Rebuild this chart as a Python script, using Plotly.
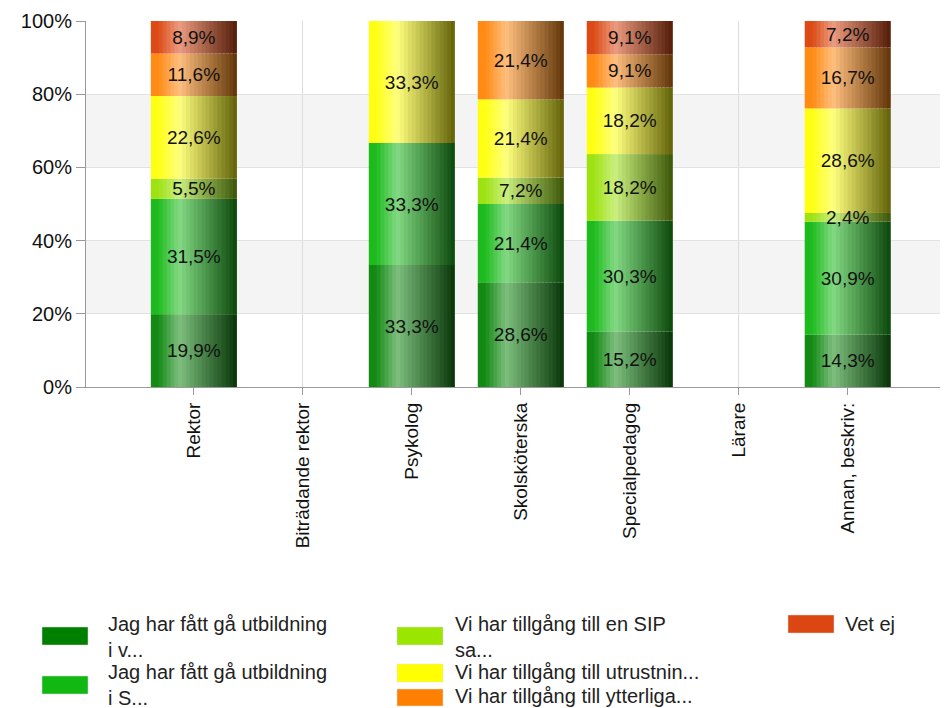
import plotly.graph_objects as go

categories = ["Rektor", "Biträdande rektor", "Psykolog", "Skolsköterska",
              "Specialpedagog", "Lärare", "Annan, beskriv:"]
series_names = ["Jag har fått gå utbildning<br>i v...",
                "Jag har fått gå utbildning<br>i S...",
                "Vi har tillgång till en SIP<br>sa...",
                "Vi har tillgång till utrustnin...",
                "Vi har tillgång till ytterliga...",
                "Vet ej"]
s1 = [19.9, None, 33.3, 28.6, 15.2, None, 14.3]
s2 = [31.5, None, 33.3, 21.4, 30.3, None, 30.9]
s3 = [5.5, None, 0, 7.2, 18.2, None, 2.4]
s4 = [22.6, None, 33.3, 21.4, 18.2, None, 28.6]
s5 = [11.6, None, 0, 21.4, 9.1, None, 16.7]
s6 = [8.9, None, 0, 0, 9.1, None, 7.2]
series = [s1, s2, s3, s4, s5, s6]
y_ticks = [0, 20, 40, 60, 80, 100]

bar_colors = ["#138a13", "#1dbb1d", "#9ee214", "#ffff14", "#ff8a14", "#dc4a16"]
legend_colors = ["#008000", "#12b812", "#9be600", "#ffff00", "#ff8000", "#dc4612"]

OFF = 8  # page body margin
W, H = 948 - OFF, 708 - OFF
ML, MT, MR = 86 - OFF, 21 - OFF, 0
PH = 366
MB = H - MT - PH
PW = W - ML - MR

def hex2rgb(h):
    h = h.lstrip("#")
    return [int(h[i:i + 2], 16) for i in (0, 2, 4)]

def mix(a, b, t):
    return [a[i] + (b[i] - a[i]) * t for i in range(3)]

def grad(base_hex, t):
    base = hex2rgb(base_hex)
    white = [255, 255, 255]
    hi = mix(base, white, 0.45)
    dark = [c * 0.38 for c in base]
    if t < 0.08:
        c = base
    elif t < 0.33:
        c = mix(base, hi, (t - 0.08) / 0.25)
    else:
        c = mix(hi, dark, (t - 0.33) / 0.67)
    return "rgb(%d,%d,%d)" % tuple(int(round(v)) for v in c)

# normalise to 100 % stacks
totals = []
for j in range(len(categories)):
    vals = [s[j] for s in series if s[j] is not None]
    totals.append(sum(vals) if vals else None)

norm = []
for s in series:
    norm.append([None if (v is None or totals[j] is None) else v / totals[j] * 100
                 for j, v in enumerate(s)])

bases = []
acc = [0.0] * len(categories)
for s in norm:
    bases.append(list(acc))
    acc = [a + (v or 0) for a, v in zip(acc, s)]

fig = go.Figure()
BW = 0.79
N = 22
for i, s in enumerate(norm):
    for k in range(N):
        t = (k + 0.5) / N
        wk = BW / N + (0.006 if k < N - 1 else 0)
        fig.add_trace(go.Bar(
            x=categories, y=s, base=bases[i],
            offset=-BW / 2 + k * BW / N, width=wk,
            marker=dict(color=grad(bar_colors[i], t), line=dict(width=0)),
            showlegend=False, hoverinfo="skip"))

for i, s in enumerate(norm):
    raw = series[i]
    labels = ["" if (v is None or v == 0) else ("%.1f" % v).replace(".", ",") + "%" for v in raw]
    fig.add_trace(go.Bar(
        x=categories, y=s, base=bases[i], offset=-BW / 2, width=BW,
        marker=dict(color="rgba(0,0,0,0)", line=dict(width=0)),
        text=labels, textposition="inside", insidetextanchor="middle",
        textangle=0, constraintext="none",
        textfont=dict(size=19, color="#111111", family="Liberation Sans, Arial"),
        showlegend=False, hoverinfo="skip", name=series_names[i].replace("<br>", " ")))

shapes = []
for lo, hi in [(20, 40), (60, 80)]:
    shapes.append(dict(type="rect", xref="paper", x0=0, x1=1, yref="y", y0=lo, y1=hi,
                       fillcolor="#f4f4f4", line=dict(width=0), layer="below"))

def px_x(px):  # page px -> paper
    return (px - OFF - ML) / PW

def px_y(py):
    return (H - MB - (py - OFF)) / PH

# manual legend (columns as in the reference)
legend_layout = [  # (swatch x0, text x, swatch y0, y1, text y center) in page px
    (42, 106, 627, 645, 637),
    (42, 106, 676, 694, 685),
    (397, 453, 627, 645, 637),
    (397, 453, 664, 682, 672),
    (397, 453, 689, 706, 696),
    (788, 843, 615, 633, 624),
]
annotations = []
for i, (sx, tx, y0, y1, ty) in enumerate(legend_layout):
    shapes.append(dict(type="rect", xref="paper", yref="paper",
                       x0=px_x(sx), x1=px_x(sx + 46), y0=px_y(y1), y1=px_y(y0),
                       fillcolor=legend_colors[i], line=dict(width=0.5, color="#dddddd")))
    annotations.append(dict(xref="paper", yref="paper", x=px_x(tx), y=px_y(ty),
                            xanchor="left", yanchor="middle", align="left",
                            text=series_names[i], showarrow=False,
                            font=dict(size=20, color="#222222", family="Liberation Sans, Arial")))

fig.update_layout(
    width=W, height=H, barmode="overlay",
    margin=dict(l=ML, r=MR, t=MT, b=MB, pad=0, autoexpand=False),
    paper_bgcolor="white", plot_bgcolor="white",
    font=dict(family="Liberation Sans, Arial", color="#222222"),
    showlegend=False, shapes=shapes, annotations=annotations,
    xaxis=dict(type="category", range=[-0.99, 6.92], tickangle=-90,
               showgrid=True, gridcolor="#dcdcdc", gridwidth=1,
               showline=True, linecolor="#999999", linewidth=1,
               ticks="outside", ticklen=7, tickcolor="#999999",
               tickfont=dict(size=19, color="#111111")),
    yaxis=dict(range=[0, 100], tickmode="array", tickvals=y_ticks,
               ticktext=["%d%%" % v for v in y_ticks],
               showgrid=True, gridcolor="#e2e2e2", gridwidth=1,
               showline=True, linecolor="#999999", linewidth=1,
               ticks="outside", ticklen=9, tickcolor="#999999",
               tickfont=dict(size=20, color="#111111"), zeroline=False),
)

fig.write_html("out.html")
